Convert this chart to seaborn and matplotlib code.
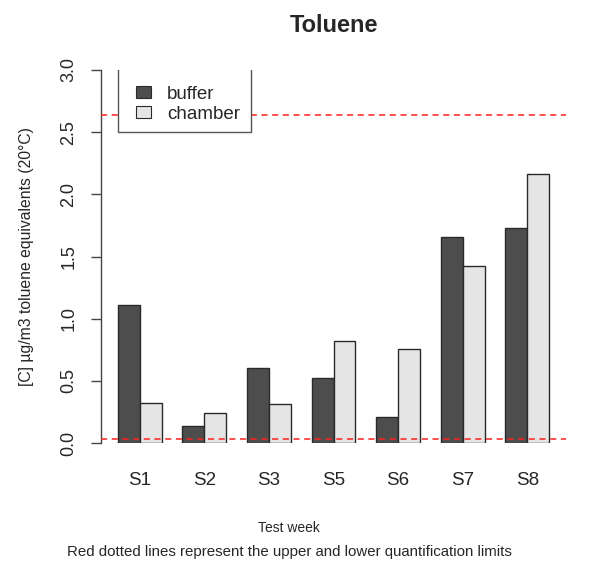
import matplotlib
matplotlib.use("Agg")
import matplotlib.pyplot as plt
from matplotlib.patches import Patch, Rectangle
import pandas as pd
import seaborn as sns

# Measured concentrations per test week
weeks = ["S1", "S2", "S3", "S5", "S6", "S7", "S8"]
buffer = [1.11, 0.14, 0.60, 0.52, 0.21, 1.66, 1.73]
chamber = [0.32, 0.24, 0.31, 0.82, 0.76, 1.42, 2.16]

# Quantification limits
upper_limit = 2.64
lower_limit = 0.035

y_ticks = [0.0, 0.5, 1.0, 1.5, 2.0, 2.5, 3.0]

df = pd.DataFrame({
    "week": weeks * 2,
    "value": buffer + chamber,
    "source": ["buffer"] * len(weeks) + ["chamber"] * len(weeks),
})

sns.set_theme(style="white")
plt.rcParams["font.family"] = ["Liberation Sans", "DejaVu Sans"]

colors = {"buffer": "#4d4d4d", "chamber": "#e5e5e5"}

fig = plt.figure(figsize=(6.02, 5.61), dpi=100)
ax = fig.add_axes([101 / 602, 118 / 561, 465 / 602, 373 / 561])

sns.barplot(data=df, x="week", y="value", hue="source", order=weeks,
            hue_order=["buffer", "chamber"], palette=colors, saturation=1,
            width=0.677, edgecolor="#2a2a2a", linewidth=1.0, legend=False,
            ax=ax, zorder=2)

ax.set_xlim(-0.6, 6.6)
ax.set_ylim(0, 3)

for lim in (upper_limit, lower_limit):
    ax.axhline(lim, color="#ff2020", linestyle=(0, (4, 3)), linewidth=1.1, zorder=3)

# Axes styling: only a left axis line, rotated y tick labels
for side in ("top", "right", "bottom"):
    ax.spines[side].set_visible(False)
ax.spines["left"].set_color("#444444")
ax.spines["left"].set_linewidth(1.0)
ax.set_yticks(y_ticks)
ax.set_yticklabels([f"{v:.1f}" for v in y_ticks], rotation=90, va="center")
ax.tick_params(axis="y", length=7, width=1, color="#444444", pad=10,
               labelsize=13, left=True, direction="out")
ax.tick_params(axis="x", length=0, pad=21, labelsize=13.5)
ax.set_xlabel("")
ax.set_ylabel("[C] µg/m3 toluene equivalents (20°C)", fontsize=11.3)
ax.yaxis.set_label_coords(-0.145, 0.5)

ax.set_title("Toluene", fontsize=17, fontweight="bold", pad=27)

# Legend box, clipped at the top of the plotting region
box = Rectangle((0.0366, 0.834), 0.286, 0.25, transform=ax.transAxes,
                facecolor="white", edgecolor="#555555", linewidth=1.0,
                zorder=4, clip_on=True)
ax.add_patch(box)
handles = [Patch(facecolor=colors[k], edgecolor="#2a2a2a", linewidth=0.8, label=k)
           for k in ("buffer", "chamber")]
ax.legend(handles=handles, loc="upper left", bbox_to_anchor=(0.075, 0.957),
          frameon=False, fontsize=13.5, handlelength=0.8, handleheight=0.6,
          handletextpad=0.85, labelspacing=0.15, borderaxespad=0,
          borderpad=0).set_zorder(5)

fig.text(289 / 602, 1 - 528 / 561, "Test week", ha="center", va="center", fontsize=10)
fig.text(289 / 602, 1 - 552 / 561,
         "Red dotted lines represent the upper and lower quantification limits",
         ha="center", va="center", fontsize=10.8)

fig.savefig("out.png", dpi=100, facecolor="white")
